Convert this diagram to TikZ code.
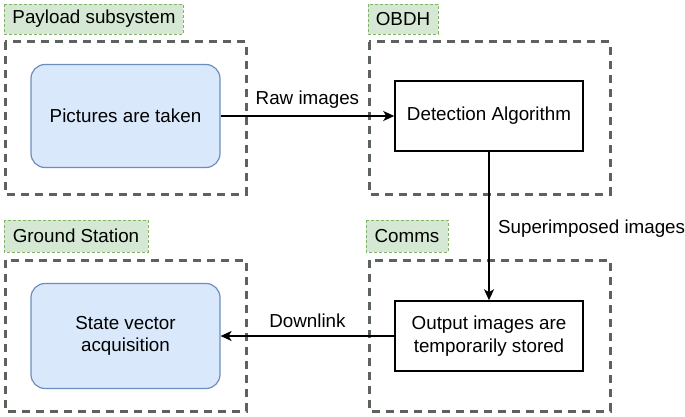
\documentclass[tikz,border=0pt]{standalone}
\usepackage{fontspec}
\setmainfont{Liberation Sans}
\usetikzlibrary{arrows.meta}
\definecolor{grpgray}{HTML}{5B635C}
\definecolor{lblfill}{HTML}{D5E8D4}
\definecolor{lbldraw}{HTML}{82B366}
\definecolor{bluefill}{HTML}{DAE8FC}
\definecolor{bluedraw}{HTML}{6C8EBF}
\tikzset{
  grp/.style={draw=grpgray, line width=3pt, dash pattern=on 8pt off 6pt},
  lbl/.style={draw=lbldraw, fill=lblfill, line width=0.7pt, dash pattern=on 3pt off 2pt},
  proc/.style={draw=bluedraw, fill=bluefill, rounded corners=14pt, line width=1.2pt},
  plain/.style={draw=black, fill=white, line width=1.5pt},
  txt/.style={font=\fontsize{18.8pt}{22.5pt}\selectfont, align=center},
  conn/.style={line width=1.5pt, -{Stealth[length=11pt,width=10pt,inset=3pt]}}
}
\begin{document}
\begin{tikzpicture}[x=1pt,y=-1pt]
\useasboundingbox (0,0) rectangle (685,417);
% group frames
\draw[grp] (5,42) rectangle (246,194);
\draw[grp] (369,42) rectangle (610,194);
\draw[grp] (5,260) rectangle (246,411);
\draw[grp] (369,260) rectangle (610,411);
% group labels
\draw[lbl] (4,4) rectangle (183,34);
\node[txt, anchor=center] (lpay) at (94,19) {Payload subsystem};
\draw[lbl] (368,4) rectangle (438,34);
\node[txt] (lobdh) at (403,19) {OBDH};
\draw[lbl] (4,220) rectangle (148,252);
\node[txt] (lgs) at (76,236) {Ground Station};
\draw[lbl] (366,220) rectangle (448,252);
\node[txt] (lcom) at (407,236) {Comms};
% nodes
\node[proc, txt, minimum width=189pt, minimum height=103pt, inner sep=0pt] (pic) at (125.5,116) {Pictures are taken};
\node[plain, txt, minimum width=188pt, minimum height=70pt, inner sep=0pt] (det) at (489,116) {Detection Algorithm};
\node[proc, txt, minimum width=189pt, minimum height=105pt, inner sep=0pt] (sva) at (125.5,336) {State vector\\acquisition};
\node[plain, txt, minimum width=188pt, minimum height=70pt, inner sep=0pt] (out) at (489,336) {Output images are\\temporarily stored};
% connectors
\draw[conn] (pic.east) -- node[txt, above=4pt] {Raw images} (det.west);
\draw[conn] (det.south) -- node[txt, right=5pt, pos=0.52] {Superimposed images} (out.north);
\draw[conn] (out.west) -- node[txt, above=4pt] {Downlink} (sva.east);
\end{tikzpicture}
\end{document}
